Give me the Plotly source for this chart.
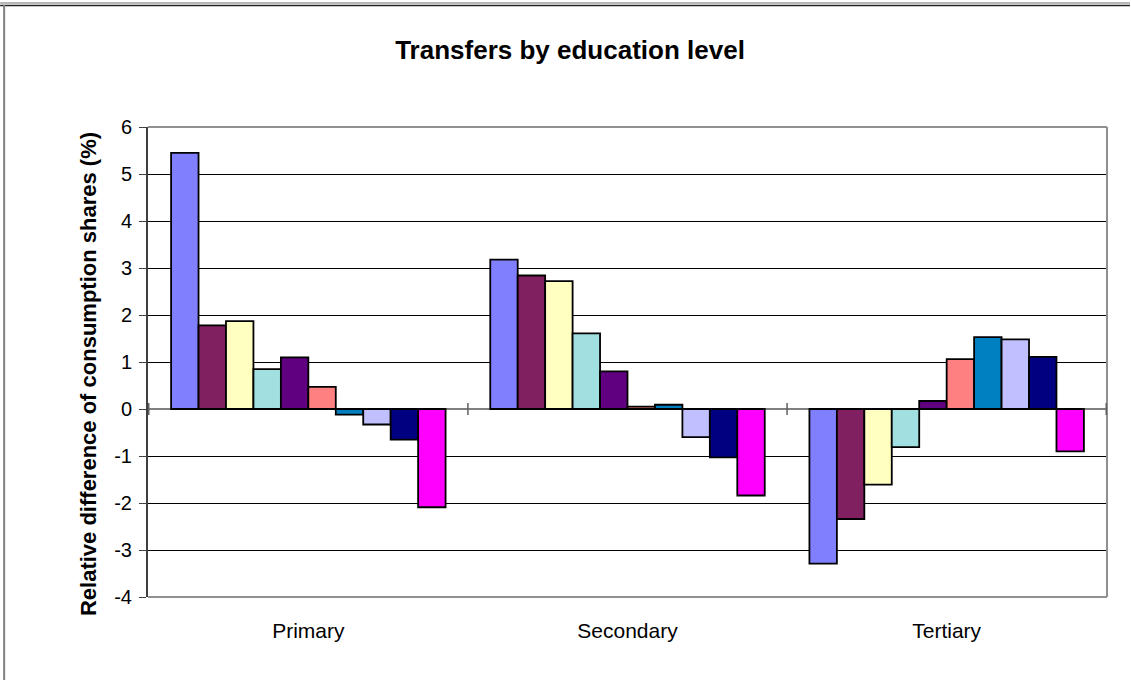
import plotly.graph_objects as go

categories = ["Primary", "Secondary", "Tertiary"]
series_names = ["Series 1", "Series 2", "Series 3", "Series 4", "Series 5",
                "Series 6", "Series 7", "Series 8", "Series 9", "Series 10"]
# values per series for [Primary, Secondary, Tertiary]
s1 = [5.45, 3.18, -3.29]
s2 = [1.78, 2.84, -2.34]
s3 = [1.87, 2.72, -1.61]
s4 = [0.85, 1.61, -0.81]
s5 = [1.10, 0.80, 0.17]
s6 = [0.47, 0.05, 1.06]
s7 = [-0.12, 0.09, 1.53]
s8 = [-0.33, -0.60, 1.48]
s9 = [-0.65, -1.03, 1.11]
s10 = [-2.09, -1.84, -0.90]
series_values = [s1, s2, s3, s4, s5, s6, s7, s8, s9, s10]
colors = ["#8080FF", "#802060", "#FFFFC0", "#A0E0E0", "#600080",
          "#FF8080", "#0080C0", "#C0C0FF", "#000080", "#FF00FF"]
y_ticks = [-4, -3, -2, -1, 0, 1, 2, 3, 4, 5, 6]

FONT = "Liberation Sans, Arial, sans-serif"

fig = go.Figure()
for name, vals, col in zip(series_names, series_values, colors):
    fig.add_trace(go.Bar(
        x=categories, y=vals, name=name,
        marker=dict(color=col, line=dict(color="#000000", width=1.8)),
    ))

fig.update_layout(
    width=1131, height=680,
    margin=dict(l=148, r=24, t=127, b=83),
    paper_bgcolor="white", plot_bgcolor="white",
    barmode="group", bargap=0.14, bargroupgap=0,
    showlegend=False,
    font=dict(family=FONT, color="#000000"),
    title=dict(text="<b>Transfers by education level</b>",
               x=0.504, xanchor="center", y=1 - 50 / 680, yanchor="middle",
               font=dict(size=26, family=FONT, color="#000000")),
)

fig.update_xaxes(
    showline=False, ticks="", showgrid=False, zeroline=False,
    tickfont=dict(size=21, family=FONT, color="#000000"),
    ticklabelstandoff=19,
)
fig.update_yaxes(
    range=[-4, 6], tickvals=y_ticks, ticktext=[str(v) for v in y_ticks],
    showgrid=True, gridcolor="#000000", gridwidth=1,
    zeroline=True, zerolinecolor="#808080", zerolinewidth=1.5,
    showline=True, linecolor="#404040", linewidth=2,
    ticks="outside", ticklen=7, tickcolor="#404040", tickwidth=1,
    tickfont=dict(size=20, family=FONT, color="#000000"),
    ticklabelstandoff=3,
)

# y-axis title
fig.add_annotation(
    text="<b>Relative difference of consumption shares (%)</b>",
    xref="paper", yref="paper", x=(88 - 148) / 960, y=0.5 - 12 / 470,
    xanchor="center", yanchor="middle", textangle=-90, showarrow=False,
    font=dict(size=22, family=FONT, color="#000000"),
)

shapes = []
# plot area border (gray)
shapes.append(dict(type="line", xref="paper", yref="paper", x0=0, x1=1, y0=1, y1=1,
                   line=dict(color="#909090", width=2)))
shapes.append(dict(type="line", xref="paper", yref="paper", x0=1, x1=1, y0=0, y1=1,
                   line=dict(color="#909090", width=2)))
shapes.append(dict(type="line", xref="paper", yref="paper", x0=0, x1=1, y0=0, y1=0,
                   line=dict(color="#909090", width=2)))
# category boundary tick marks crossing the zero line
for i in range(len(categories) + 1):
    shapes.append(dict(type="line", xref="x", yref="y", x0=i - 0.5, x1=i - 0.5,
                       y0=-0.13, y1=0.13, line=dict(color="#606060", width=1.5)))
# outer chart frame: double top line and left line
shapes.append(dict(type="line", xref="paper", yref="paper",
                   x0=-148 / 960, x1=(1131 - 148) / 960,
                   y0=1 + (127 - 3) / 470, y1=1 + (127 - 3) / 470,
                   line=dict(color="#707070", width=1.2)))
shapes.append(dict(type="line", xref="paper", yref="paper",
                   x0=-148 / 960, x1=(1131 - 148) / 960,
                   y0=1 + (127 - 5.5) / 470, y1=1 + (127 - 5.5) / 470,
                   line=dict(color="#202020", width=1.5)))
shapes.append(dict(type="line", xref="paper", yref="paper",
                   x0=-(148 - 4) / 960, x1=-(148 - 4) / 960,
                   y0=-83 / 470, y1=1 + (127 - 5) / 470,
                   line=dict(color="#808080", width=2)))
fig.update_layout(shapes=shapes)

fig.write_html("out.html", config={"displayModeBar": False},
               post_script="document.body.style.margin='0';document.body.style.overflow='hidden';")
